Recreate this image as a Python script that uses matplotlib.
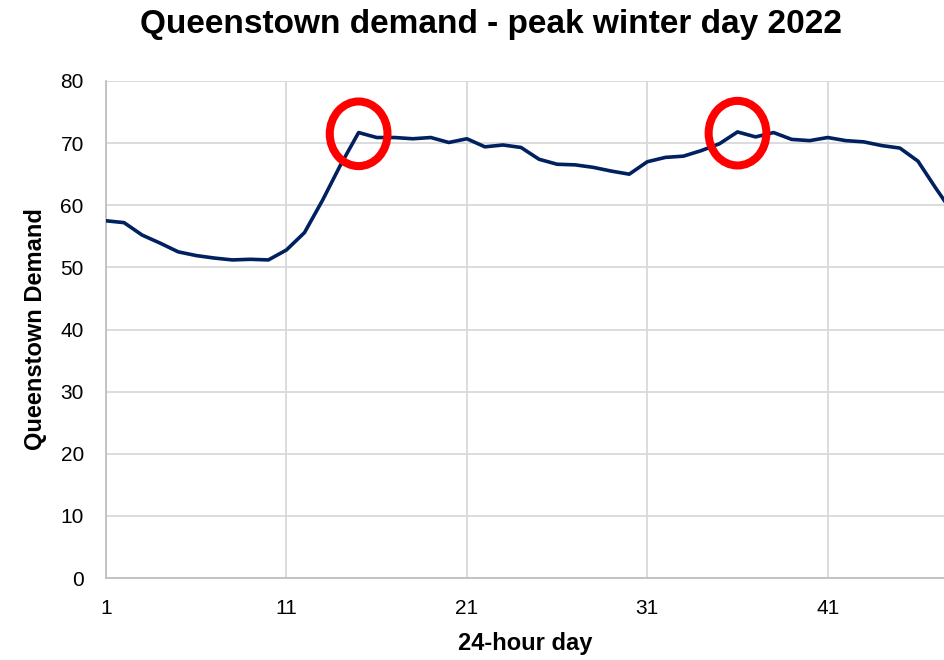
import numpy as np
import matplotlib
matplotlib.use("Agg")
from matplotlib import pyplot as plt
from matplotlib.patches import Ellipse

plt.rcParams['font.family'] = ['Liberation Sans', 'DejaVu Sans']

# half-hour periods of the day
periods = list(range(1, 49))
demand = [57.5, 57.2, 55.2, 53.9, 52.5, 51.9, 51.5, 51.2, 51.3, 51.2,
          52.8, 55.6, 60.8, 66.5, 71.7, 70.9, 70.9, 70.7, 70.9, 70.1,
          70.7, 69.4, 69.7, 69.3, 67.4, 66.6, 66.5, 66.1, 65.5, 65.0,
          67.0, 67.7, 67.9, 68.8, 69.9, 71.8, 71.0, 71.7, 70.6, 70.4,
          70.9, 70.4, 70.2, 69.6, 69.2, 67.1, 62.7, 58.5]
xticks = [1, 11, 21, 31, 41]
yticks = [0, 10, 20, 30, 40, 50, 60, 70, 80]

fig = plt.figure(figsize=(9.45, 6.6), dpi=100)
ax = fig.add_axes([0.1122, 0.1242, 0.8878, 0.7531])

ax.plot(periods, demand, color='#002060', linewidth=2.6, zorder=3)

# red circles round the two peaks (morning / evening)
d = np.array(demand)
for lo, hi in [(0, 24), (24, 40)]:
    i = lo + int(np.argmax(d[lo:hi]))
    ell = Ellipse((periods[i], d[i] - 0.2), width=3.2, height=10.4, fill=False,
                  edgecolor='#ff0000', linewidth=5.8, zorder=4)
    ax.add_patch(ell)

ax.set_xlim(1, 47.5)
ax.set_ylim(0, 80)
ax.set_xticks(xticks)
ax.set_yticks(yticks)
ax.tick_params(length=0, labelsize=15)
ax.tick_params(axis='y', pad=16)
ax.tick_params(axis='x', pad=15)
ax.grid(True, color='#d9d9d9', linewidth=1.3)
ax.set_axisbelow(True)
for s in ['top', 'right']:
    ax.spines[s].set_visible(False)
for s in ['left', 'bottom']:
    ax.spines[s].set_color('#bfbfbf')
    ax.spines[s].set_linewidth(1.3)

ax.set_xlabel('24-hour day', fontsize=17, fontweight='bold', labelpad=10)
ax.set_ylabel('Queenstown Demand', fontsize=17, fontweight='bold', labelpad=10)
fig.text(0.52, 1 - 33 / 660, 'Queenstown demand - peak winter day 2022',
         ha='center', va='baseline', fontsize=24, fontweight='bold')

fig.savefig('out.png', dpi=100)
